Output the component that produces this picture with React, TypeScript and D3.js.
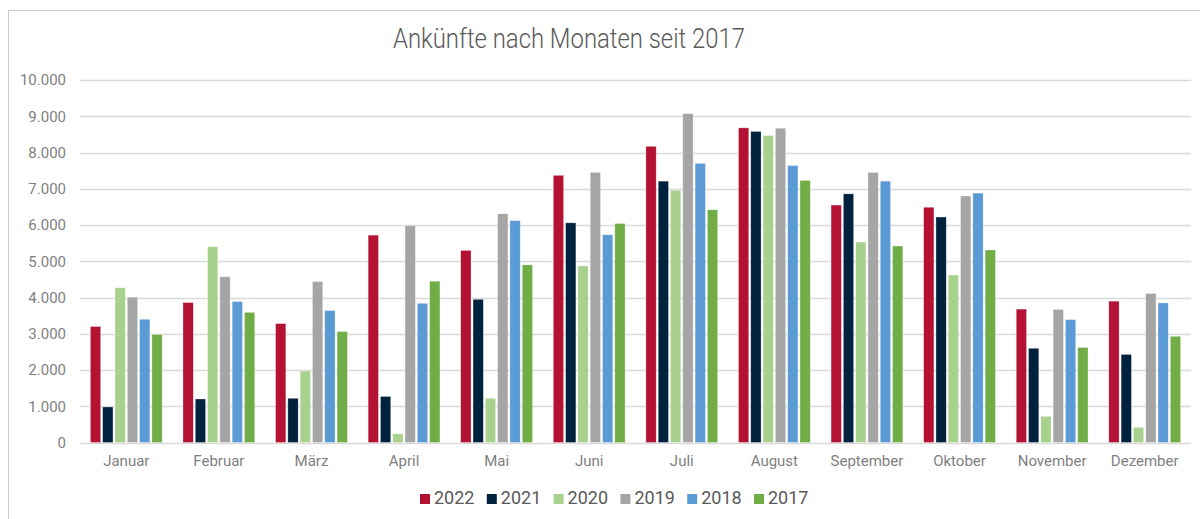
import React from "react";
import * as d3 from "d3";

const months = ["Januar","Februar","März","April","Mai","Juni","Juli","August","September","Oktober","November","Dezember"];
const years = ["2022","2021","2020","2019","2018","2017"];
const v2022 = [3200, 3860, 3280, 5720, 5300, 7370, 8170, 8680, 6550, 6490, 3680, 3900];
const v2021 = [980, 1200, 1220, 1270, 3950, 6060, 7210, 8580, 6860, 6220, 2600, 2430];
const v2020 = [4270, 5400, 1970, 240, 1220, 4870, 6960, 8470, 5530, 4620, 720, 420];
const v2019 = [4010, 4570, 4440, 5980, 6310, 7450, 9070, 8670, 7450, 6800, 3670, 4110];
const v2018 = [3400, 3890, 3640, 3840, 6120, 5730, 7700, 7640, 7210, 6880, 3390, 3850];
const v2017 = [2980, 3590, 3060, 4450, 4900, 6040, 6420, 7230, 5420, 5310, 2620, 2930];
const yTicks = [0, 1000, 2000, 3000, 4000, 5000, 6000, 7000, 8000, 9000, 10000];
const title = "Ankünfte nach Monaten seit 2017";

const seriesValues = [v2022, v2021, v2020, v2019, v2018, v2017];
const colors = ["#B31232", "#00223F", "#A9D18E", "#A5A5A5", "#5B9BD5", "#70AD47"];

const W = 1200, H = 519;
const plot = { left: 80, right: 1191, top: 80, bottom: 442.5 };
const FONT = "Roboto, 'DejaVu Sans', sans-serif";

export default function App() {
  const x0 = d3.scaleBand<string>().domain(months).range([plot.left, plot.right]).padding(0);
  const bw = x0.bandwidth();
  const groupW = 71.8;
  const x1 = d3.scaleBand<string>().domain(years)
    .range([(bw - groupW) / 2, (bw + groupW) / 2]).paddingInner(0.163).paddingOuter(0);
  const y = d3.scaleLinear().domain([0, 10000]).range([plot.bottom, plot.top]);
  const loc = d3.formatLocale({ decimal: ",", thousands: ".", grouping: [3], currency: ["", "€"] });
  const fmt = loc.format(",d");

  const legendStart = 420;
  const legendStep = 66.8;

  return (
    <svg width={W} height={H} style={{ position: "absolute", left: 0, top: 0, background: "#fff" }}>
      <rect x={8.5} y={10.5} width={1400} height={700} fill="#fff" stroke="#C9C6DC" strokeWidth={1} />
      <text x={569} y={48} textAnchor="middle" fontFamily={FONT} fontSize={28} fontWeight={300}
        textLength={352} lengthAdjust="spacingAndGlyphs" fill="#595959">{title}</text>
      {yTicks.map(t => (
        <g key={t}>
          <line x1={plot.left} x2={plot.right} y1={Math.round(y(t)) + 0.5} y2={Math.round(y(t)) + 0.5} stroke="#D9D9D9" strokeWidth={1.3} />
          <text x={66} y={y(t)} dy="0.35em" textAnchor="end" fontFamily={FONT} fontSize={15} fill="#7F7F7F">{fmt(t)}</text>
        </g>
      ))}
      {months.map((m, i) => (
        <g key={m} transform={`translate(${x0(m)},0)`}>
          {years.map((yr, k) => {
            const v = seriesValues[k][i];
            return (
              <rect key={yr} x={x1(yr)} y={y(v)} width={x1.bandwidth()} height={y(0) - y(v)}
                fill={colors[k]} stroke="#ffffff" strokeOpacity={0.5} strokeWidth={0.6} />
            );
          })}
          <text x={bw / 2} y={466} textAnchor="middle" fontFamily={FONT} fontSize={15} fill="#7F7F7F">{m}</text>
        </g>
      ))}
      {years.map((yr, k) => (
        <g key={yr} transform={`translate(${legendStart + k * legendStep},0)`}>
          <rect x={0} y={494} width={10} height={10} fill={colors[k]} />
          <text x={14} y={504} fontFamily={FONT} fontSize={18} fill="#595959">{yr}</text>
        </g>
      ))}
    </svg>
  );
}
